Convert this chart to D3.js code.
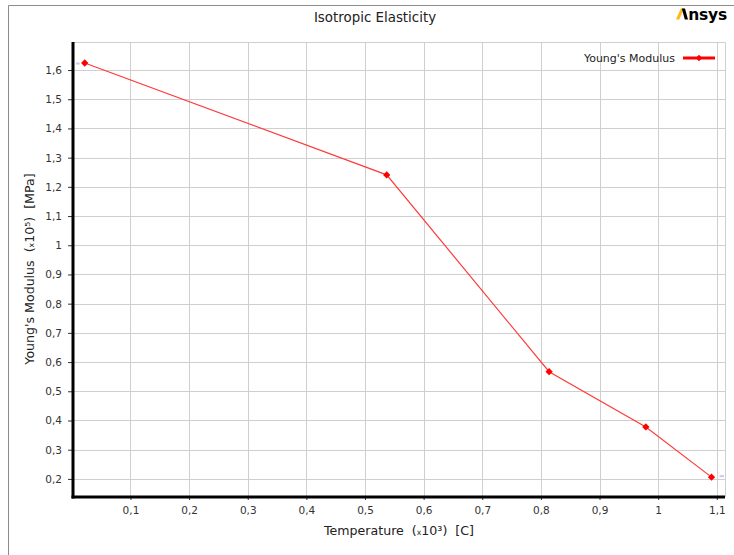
<!DOCTYPE html>
<html>
<head>
<meta charset="utf-8">
<script src="https://cdn.jsdelivr.net/npm/d3@7"></script>
<style>
  html, body { margin: 0; padding: 0; background: #fff; }
  svg { display: block; font-family: "DejaVu Sans", sans-serif; }
  text { white-space: pre; }
</style>
</head>
<body>
<svg id="chart" width="734" height="555"></svg>
<script>
// ---- data (temperature x10^3 C, Young's modulus x10^5 MPa) ----
const temperature = [0.022, 0.537, 0.814, 0.979, 1.091];
const youngsModulus = [1.624, 1.241, 0.567, 0.378, 0.206];
const xTicks = [0.1, 0.2, 0.3, 0.4, 0.5, 0.6, 0.7, 0.8, 0.9, 1.0, 1.1];
const yTicks = [0.2, 0.3, 0.4, 0.5, 0.6, 0.7, 0.8, 0.9, 1.0, 1.1, 1.2, 1.3, 1.4, 1.5, 1.6];
const titleText = "Isotropic Elasticity";
const seriesName = "Young's Modulus";

const svg = d3.select("#chart");
const W = 734, H = 555;
const plot = { left: 73, right: 725, top: 42, bottom: 497 };

const x = d3.scaleLinear().domain([0.002, 1.114]).range([plot.left, plot.right]);
const y = d3.scaleLinear().domain([0.138, 1.696]).range([plot.bottom, plot.top]);
const fmt = d => String(+d.toFixed(1)).replace(".", ",");

// outer frame
svg.append("path")
  .attr("d", `M8.5,${H} L8.5,5.5 L${W},5.5`)
  .attr("fill", "none").attr("stroke", "#8c8c8c").attr("stroke-width", 1);

// title
svg.append("text").attr("x", 375).attr("y", 22).attr("text-anchor", "middle")
  .attr("font-size", 13.4).attr("fill", "#222").text(titleText);

// Ansys logo
const logo = svg.append("g").attr("transform", "translate(676,8.5)");
logo.append("path").attr("d", "M0,11 L4.8,0 L8,0 L3.2,11 Z").attr("fill", "#ffb71b");
logo.append("path").attr("d", "M5.8,0 L9,0 L12,11 L8.8,11 Z").attr("fill", "#000");
logo.append("text").attr("x", 12.2).attr("y", 11).attr("font-size", 15.5)
  .attr("font-weight", "bold").attr("fill", "#000")
  .attr("font-family", "'DejaVu Sans', sans-serif")
  .attr("letter-spacing", -0.2).text("nsys");

// grid
const g = svg.append("g");
g.selectAll(".vg").data(xTicks).join("line")
  .attr("x1", d => Math.round(x(d)) + 0.5).attr("x2", d => Math.round(x(d)) + 0.5)
  .attr("y1", plot.top).attr("y2", plot.bottom)
  .attr("stroke", "#cfcfcf").attr("stroke-width", 1);
g.selectAll(".hg").data(yTicks).join("line")
  .attr("x1", plot.left).attr("x2", plot.right)
  .attr("y1", d => Math.round(y(d)) + 0.5).attr("y2", d => Math.round(y(d)) + 0.5)
  .attr("stroke", "#cfcfcf").attr("stroke-width", 1);
// plot border top / right
g.append("path")
  .attr("d", `M${plot.left},${plot.top + 0.5} L${plot.right + 0.5},${plot.top + 0.5} L${plot.right + 0.5},${plot.bottom}`)
  .attr("fill", "none").attr("stroke", "#cfcfcf");

// axes via d3
const yAxis = d3.axisLeft(y).tickValues(yTicks).tickFormat(fmt).tickSize(5).tickPadding(6);
const xAxis = d3.axisBottom(x).tickValues(xTicks).tickFormat(fmt).tickSize(3).tickPadding(7);

const ya = svg.append("g").attr("transform", `translate(${plot.left},0)`).call(yAxis);
const xa = svg.append("g").attr("transform", `translate(0,${plot.bottom})`).call(xAxis);
[ya, xa].forEach(a => {
  a.select(".domain").remove();
  a.selectAll(".tick line").attr("stroke", "#333");
  a.selectAll(".tick text").attr("fill", "#333").attr("font-size", 10.5)
    .attr("font-family", "'DejaVu Sans', sans-serif");
});
// thick axis lines
svg.append("line").attr("x1", plot.left).attr("x2", plot.left)
  .attr("y1", plot.top).attr("y2", plot.bottom + 1.5)
  .attr("stroke", "#000").attr("stroke-width", 3);
svg.append("line").attr("x1", plot.left - 1.5).attr("x2", plot.right)
  .attr("y1", plot.bottom).attr("y2", plot.bottom)
  .attr("stroke", "#000").attr("stroke-width", 3);

// axis titles
const xt = svg.append("text").attr("x", 399).attr("y", 535).attr("text-anchor", "middle")
  .attr("font-size", 12.6).attr("fill", "#222");
xt.append("tspan").text("Temperature  (");
xt.append("tspan").attr("font-size", 7.8).text("x");
xt.append("tspan").text("10³)  [C]");

const yt = svg.append("text").attr("transform", "translate(34,269) rotate(-90)")
  .attr("text-anchor", "middle").attr("font-size", 12.6).attr("fill", "#222");
yt.append("tspan").text("Young's Modulus  (");
yt.append("tspan").attr("font-size", 7.8).text("x");
yt.append("tspan").text("10⁵)  [MPa]");

// data
const pts = temperature.map((t, i) => ({ t, v: youngsModulus[i] }));

// faint extrapolation ticks
const first = pts[0], last = pts[pts.length - 1];
svg.append("line").attr("x1", plot.left + 3).attr("x2", x(first.t) - 5)
  .attr("y1", y(first.v) + 0.5).attr("y2", y(first.v) + 0.5)
  .attr("stroke", "#c8c8f5").attr("stroke-width", 2);
svg.append("line").attr("x1", x(last.t) + 8).attr("x2", plot.right - 1)
  .attr("y1", y(last.v) - 1).attr("y2", y(last.v) - 1)
  .attr("stroke", "#c8c8f5").attr("stroke-width", 2);

svg.append("path").datum(pts)
  .attr("d", d3.line().x(d => x(d.t)).y(d => y(d.v)))
  .attr("fill", "none").attr("stroke", "#ff3a3a").attr("stroke-width", 1.2);

const diamond = d3.symbol().type(d3.symbolDiamond2).size(34);
svg.selectAll(".pt").data(pts).join("path")
  .attr("transform", d => `translate(${x(d.t)},${y(d.v)})`)
  .attr("d", diamond).attr("fill", "#ff0000");

// legend
svg.append("text").attr("x", 675).attr("y", 61.5).attr("text-anchor", "end")
  .attr("font-size", 11).attr("fill", "#222").text(seriesName);
svg.append("line").attr("x1", 683).attr("x2", 715).attr("y1", 58).attr("y2", 58)
  .attr("stroke", "#ff0000").attr("stroke-width", 3);
svg.append("path").attr("transform", "translate(699,58)")
  .attr("d", d3.symbol().type(d3.symbolDiamond2).size(26)).attr("fill", "#ff0000");
</script>
</body>
</html>
